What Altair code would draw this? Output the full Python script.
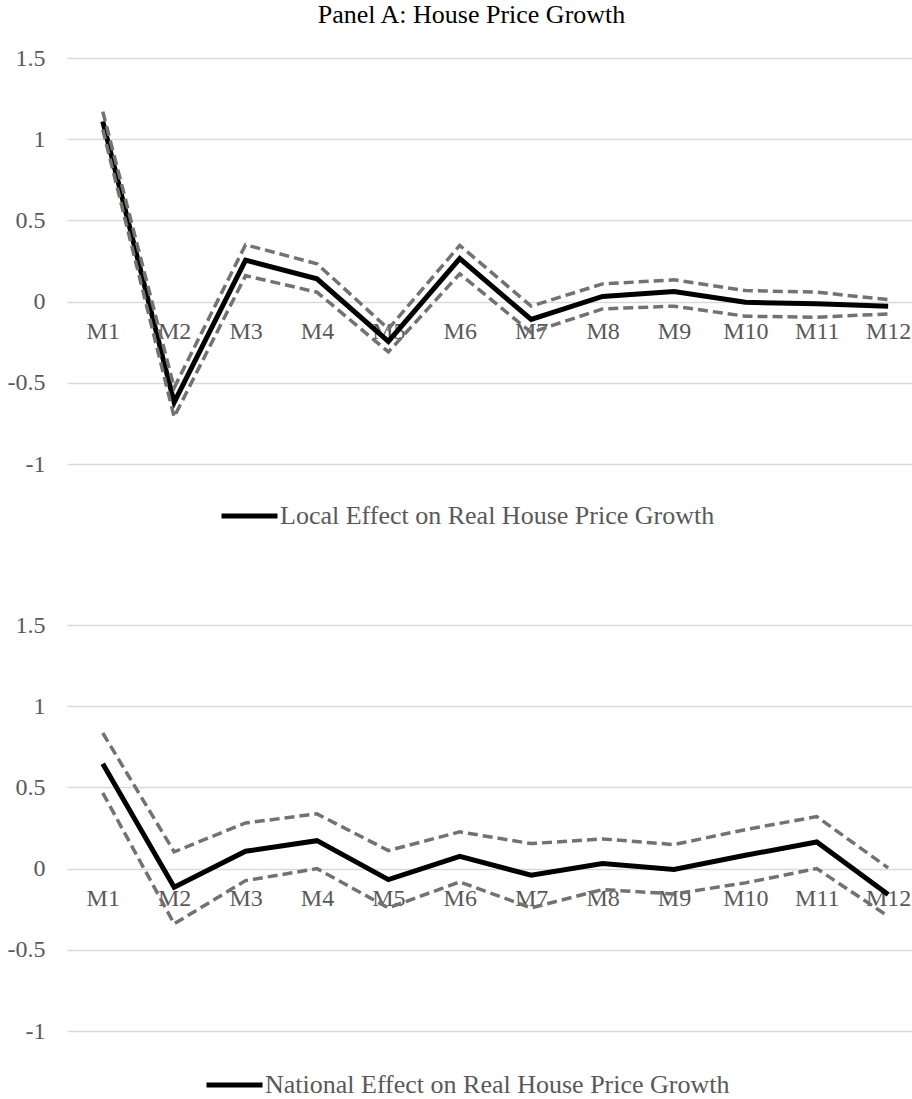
import altair as alt
import pandas as pd

months = ["M1", "M2", "M3", "M4", "M5", "M6", "M7", "M8", "M9", "M10", "M11", "M12"]

local_est = [1.11, -0.62, 0.255, 0.14, -0.245, 0.265, -0.11, 0.032, 0.062, -0.004, -0.014, -0.028]
local_upper = [1.17, -0.53, 0.35, 0.233, -0.168, 0.346, -0.028, 0.109, 0.134, 0.068, 0.058, 0.012]
local_lower = [1.06, -0.71, 0.16, 0.058, -0.31, 0.171, -0.19, -0.045, -0.028, -0.09, -0.096, -0.076]

nat_est = [0.645, -0.115, 0.107, 0.172, -0.068, 0.076, -0.041, 0.031, -0.006, 0.082, 0.164, -0.16]
nat_upper = [0.835, 0.103, 0.281, 0.337, 0.111, 0.226, 0.154, 0.183, 0.148, 0.24, 0.32, 0.004]
nat_lower = [0.466, -0.34, -0.074, 0.0, -0.242, -0.082, -0.242, -0.129, -0.156, -0.088, 0.0, -0.293]

y_ticks = [-1, -0.5, 0, 0.5, 1, 1.5]

FONT = "Liberation Serif"
GRAY_TXT = "#595959"
W, H = 845, 406


def panel(est, upper, lower, label, legend_x, legend_y):
    main = pd.DataFrame({"month": months, "value": est, "series": label})
    bands = pd.DataFrame({
        "month": months * 2,
        "value": upper + lower,
        "bound": ["upper"] * len(months) + ["lower"] * len(months),
    })
    x = alt.X(
        "month:N", sort=months, title=None,
        scale=alt.Scale(padding=0.4175, align=0.6),
        axis=alt.Axis(orient="bottom", offset=-H * 0.4, domain=False, ticks=False,
                      grid=False, labelAngle=0, labelFont=FONT, labelFontSize=24,
                      labelColor=GRAY_TXT, labelPadding=18, labelBaseline="top"),
    )
    y = alt.Y(
        "value:Q", title=None,
        scale=alt.Scale(domain=[-1, 1.5], nice=False, zero=False),
        axis=alt.Axis(values=y_ticks, domain=False, ticks=False, grid=True,
                      gridColor="#d9d9d9", gridWidth=1.6, labelFont=FONT,
                      labelFontSize=24, labelColor=GRAY_TXT, labelPadding=22,
                      labelExpr="'' + datum.value", minExtent=62, maxExtent=62),
    )
    main_line = alt.Chart(main).mark_line(strokeWidth=5, strokeJoin="miter").encode(
        x=x, y=y,
        color=alt.Color("series:N", scale=alt.Scale(range=["black"]),
                        legend=alt.Legend(title=None, orient="none", legendX=legend_x,
                                          legendY=legend_y, symbolType="stroke",
                                          symbolSize=3136, symbolStrokeWidth=5,
                                          clipHeight=26,
                                          labelFont=FONT, labelFontSize=26,
                                          labelColor=GRAY_TXT, labelOffset=0,
                                          padding=0, labelLimit=1000)),
    )
    band_lines = alt.Chart(bands).mark_line(strokeWidth=3.5, strokeDash=[10, 5],
                                             color="#767171").encode(
        x=x, y=y, detail="bound:N",
    )
    return alt.layer(main_line, band_lines).properties(width=W, height=H)


top = panel(local_est, local_upper, local_lower,
            "Local Effect on Real House Price Growth", 152, 445)
bottom = panel(nat_est, nat_upper, nat_lower,
               "National Effect on Real House Price Growth", 137, 447)

chart = alt.vconcat(top, bottom, spacing=84).properties(
    title=alt.Title("Panel A: House Price Growth", font=FONT, fontSize=26,
                    fontWeight="normal", color="black", anchor="middle",
                    dx=13, offset=18),
    padding={"left": 5, "top": 2, "right": 0, "bottom": 0},
).resolve_scale(color="independent").resolve_legend(color="independent").configure_view(stroke=None)

chart.save("out.html", embed_options={"renderer": "svg", "actions": False})
